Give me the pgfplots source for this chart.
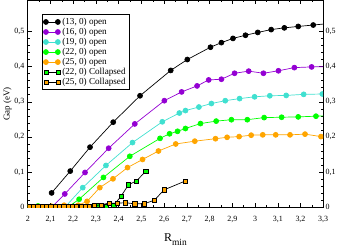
\documentclass[border=0pt]{standalone}
\usepackage{fontspec}
\setmainfont{Liberation Serif}
\usepackage{pgfplots}
\usepackage{pgfplotstable}
\pgfplotsset{compat=1.18}
\definecolor{gviolet}{RGB}{148,0,211}
\definecolor{gturq}{RGB}{64,224,208}
\definecolor{ggreen}{RGB}{0,255,0}
\definecolor{gorange}{RGB}{255,165,0}
\pgfplotstableread{
x y
2.006 0.003
2.025 0.003
2.044 0.003
2.063 0.003
2.082 0.003
2.101 0.003
2.120 0.003
2.139 0.003
2.158 0.003
2.177 0.003
2.196 0.003
2.215 0.003
2.234 0.004
2.257 0.004
2.289 0.004
2.312 0.005
2.344 0.004
2.378 0.006
2.410 0.031
2.443 0.064
2.478 0.075
2.519 0.102
}\collgreen
\pgfplotstableread{
x y
2.006 0.003
2.025 0.003
2.044 0.003
2.063 0.003
2.082 0.003
2.101 0.003
2.120 0.003
2.139 0.003
2.158 0.003
2.177 0.003
2.196 0.003
2.215 0.003
2.234 0.003
2.253 0.003
2.272 0.003
2.291 0.005
2.322 0.007
2.357 0.012
2.392 0.012
2.430 0.013
2.471 0.010
2.512 0.010
2.556 0.020
2.601 0.050
2.694 0.075
}\collorange
\pgfplotsset{
  common/.style={
    scale only axis, width=297pt, height=208pt,
    xmin=2, xmax=3.3, ymin=0, ymax=0.588,
    ytick={0,0.1,0.2,0.3,0.4,0.5},
    /pgf/number format/use comma,
    /pgf/number format/assume math mode=true,
    yticklabel style={font=\fontsize{8}{9}\selectfont},
  },
  openS/.style={color=#1, line width=0.7pt, mark=*, mark size=2.5pt, mark options={fill=#1, draw=#1}},
  collM/.style={only marks, mark=square*, mark size=2.1pt, draw=black, fill=#1, line width=0.5pt,
    mark options={draw=black, fill=#1},
    legend image code/.code={\draw[black, line width=0.7pt] (0pt,0pt) -- (12pt,0pt);
      \filldraw[draw=black, fill=#1, line width=0.5pt] (-2.1pt,-2.1pt) rectangle (2.1pt,2.1pt);
      \filldraw[draw=black, fill=#1, line width=0.5pt] (9.9pt,-2.1pt) rectangle (14.1pt,2.1pt);}},
}
\begin{document}
\begin{tikzpicture}
\begin{axis}[common,
  xtick={2,2.1,2.2,2.3,2.4,2.5,2.6,2.7,2.8,2.9,3,3.1,3.2,3.3},
  xticklabels={2,{2,1},{2,2},{2,3},{2,4},{2,5},{2,6},{2,7},{2,8},{2,9},3,{3,1},{3,2},{3,3}},
  minor x tick num=1, minor y tick num=4,
  xtick pos=both, ytick pos=both,
  tick align=inside,
  major tick length=4pt, minor tick length=2pt,
  tick style={black, line width=0.5pt},
  axis line style={line width=0.8pt},
  xticklabel style={font=\fontsize{8}{9}\selectfont, yshift=-5.5pt},
  clip marker paths=true,
  clip bounding box=upper bound,
  xlabel={R\raisebox{-4pt}{\fontsize{9.5}{10}\selectfont min}},
  xlabel style={font=\fontsize{12}{13}\selectfont, yshift=-4pt},
  ylabel={Gap (eV)},
  ylabel style={font=\fontsize{9}{10}\selectfont, yshift=-4pt},
  legend style={at={(0.047,0.933)}, anchor=north west, draw=black, line width=0.6pt,
    font=\fontsize{9.2}{9.5}\selectfont, inner sep=1.5pt, row sep=-1.8pt},
  legend cell align=left,
  legend image code/.code={\draw[#1] plot coordinates {(0pt,0pt) (12pt,0pt)};},
]
\addplot[openS=black] coordinates {
(2.105,0.041)(2.187,0.103)(2.274,0.171)(2.376,0.242)(2.494,0.317)(2.629,0.389)
(2.702,0.420)(2.804,0.455)(2.852,0.468)(2.903,0.480)(2.958,0.489)(3.012,0.497)
(3.071,0.505)(3.129,0.510)(3.190,0.514)(3.256,0.518)(3.320,0.522)};
\addlegendentry{(13, 0) open}
\addplot[openS=gviolet] coordinates {
(2.045,0)(2.105,0)(2.163,0.038)(2.252,0.099)(2.356,0.168)(2.471,0.237)(2.601,0.303)
(2.677,0.328)(2.745,0.345)(2.796,0.362)(2.852,0.364)(2.910,0.381)(2.972,0.387)
(3.037,0.381)(3.103,0.388)(3.173,0.397)(3.249,0.399)(3.320,0.400)};
\addlegendentry{(16, 0) open}
\addplot[openS=gturq] coordinates {
(2.045,0)(2.105,0)(2.163,0)(2.242,0.056)(2.344,0.119)(2.461,0.184)(2.592,0.243)
(2.667,0.268)(2.694,0.275)(2.753,0.285)(2.808,0.295)(2.869,0.303)(2.932,0.309)
(2.998,0.314)(3.065,0.317)(3.137,0.318)(3.214,0.321)(3.296,0.322)};
\addlegendentry{(19, 0) open}
\addplot[openS=ggreen] coordinates {
(2.045,0.004)(2.105,0.002)(2.180,0.002)(2.226,0.023)(2.333,0.085)(2.449,0.145)
(2.582,0.196)(2.624,0.209)(2.659,0.216)(2.694,0.224)(2.760,0.238)(2.829,0.245)
(2.896,0.249)(2.966,0.249)(3.040,0.255)(3.117,0.256)(3.190,0.257)(3.268,0.259)(3.340,0.261)};
\addlegendentry{(22, 0) open}
\addplot[openS=gorange] coordinates {
(2.045,0.002)(2.105,0.003)(2.160,0.006)(2.222,0.006)(2.261,0.017)(2.317,0.056)
(2.375,0.081)(2.439,0.113)(2.505,0.136)(2.575,0.160)(2.651,0.180)(2.735,0.188)
(2.826,0.195)(2.877,0.199)(2.930,0.201)(2.983,0.205)(3.034,0.206)(3.091,0.206)
(3.154,0.206)(3.220,0.208)(3.290,0.201)};
\addlegendentry{(25, 0) open}
\addplot[black, line width=0.7pt, forget plot] table[x=x,y=y] {\collgreen};
\addplot[collM=ggreen] table[x=x,y=y] {\collgreen};
\addlegendentry{(22, 0) Collapsed}
\addplot[black, line width=0.7pt, forget plot] table[x=x,y=y] {\collorange};
\addplot[collM=gorange] table[x=x,y=y] {\collorange};
\addlegendentry{(25, 0) Collapsed}
\end{axis}
\begin{axis}[common,
  hide x axis, axis y line*=right,
  minor y tick num=0,
  y axis line style={draw=none}, ytick style={draw=none},
  yticklabel style={xshift=-1pt},
]
\end{axis}
\end{tikzpicture}
\end{document}
